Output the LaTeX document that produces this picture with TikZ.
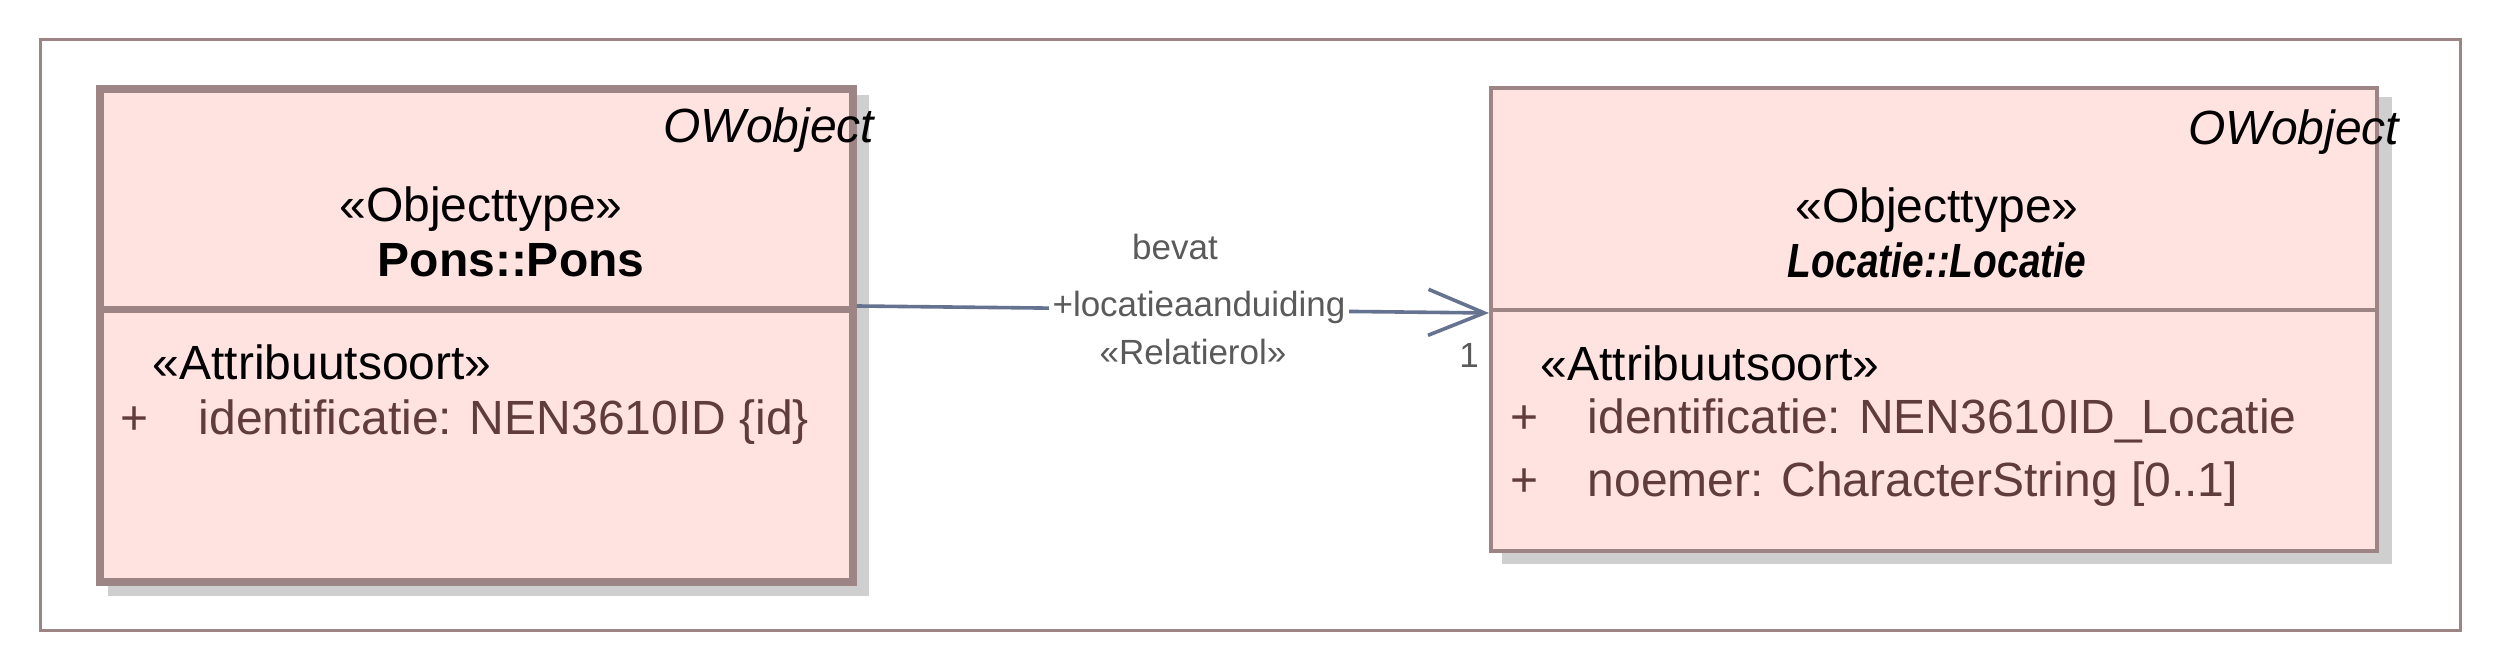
\documentclass[tikz,border=0pt]{standalone}
\usepackage{graphicx}
\usepackage{fontspec}
\setmainfont{Liberation Sans}
\usetikzlibrary{arrows.meta,calc}
\definecolor{boxfill}{HTML}{FFE3E1}
\definecolor{boxline}{HTML}{9C8584}
\definecolor{shadowc}{HTML}{CFCFCF}
\definecolor{linkc}{HTML}{667390}
\definecolor{attrc}{HTML}{603C3C}
\definecolor{labc}{HTML}{5A5A5A}
\begin{document}
\begin{tikzpicture}[x=0.25pt,y=-0.25pt,
  classbox/.style={draw=boxline, fill=boxfill, rectangle, inner sep=0pt},
  txt/.style={inner sep=0pt, font=\fontsize{12pt}{14pt}\selectfont},
  attr/.style={txt, text=attrc, anchor=base west},
  lab/.style={inner sep=0pt, text=labc, font=\fontsize{8.75pt}{10pt}\selectfont, anchor=base},
  shadowfill/.style={fill=shadowc}]
\useasboundingbox (0,0) rectangle (2500,672);
% outer frame
\node[draw=boxline, line width=0.75pt, rectangle, inner sep=0pt, outer sep=0pt,
      minimum width=605pt, minimum height=147.75pt] (frame) at (1250,335.5) {};
% class boxes (nodes first, invisible, to get anchors)
\path (476.5,335.5) node[rectangle, inner sep=0pt, line width=2pt, minimum width=188.25pt, minimum height=123.25pt] (ponsS) {};
\path (1934,319.5) node[rectangle, inner sep=0pt, line width=1pt, minimum width=221.5pt, minimum height=115.75pt] (locS) {};
% shadows
\fill[shadowfill] ($(ponsS.south west)+(12,10)$) rectangle ($(ponsS.north east)+(12,10)$);
\fill[shadowfill] ($(locS.south west)+(13,11)$) rectangle ($(locS.north east)+(13,11)$);
% boxes
\node[classbox, line width=2pt, minimum width=188.25pt, minimum height=123.25pt] (pons) at (476.5,335.5) {};
\node[classbox, line width=1pt, minimum width=221.5pt, minimum height=115.75pt] (loc) at (1934,319.5) {};
% dividers
\draw[boxline, line width=1.75pt] (pons.west |- 0,309.5) -- (pons.east |- 0,309.5);
\draw[boxline, line width=1pt] (loc.west |- 0,310) -- (loc.east |- 0,310);
% texts left box
\node[txt, anchor=base east, font=\fontsize{12pt}{14pt}\selectfont\itshape] (ow1) at (875,143) {OWobject};
\node[txt, anchor=base] (st1) at (481,222) {«Objecttype»};
\node[txt, anchor=base, font=\fontsize{12pt}{14pt}\selectfont\bfseries] (nm1) at (511,277) {Pons::Pons};
\node[txt, anchor=base west] (as1) at (152,380) {«Attribuutsoort»};
\node[attr] (p1) at (120,435) {+};
\node[attr] (a1) at (198,435) {identificatie: NEN3610ID \{id\}};
% texts right box
\node[txt, anchor=base east, font=\fontsize{12pt}{14pt}\selectfont\itshape] (ow2) at (2400,145) {OWobject};
\node[txt, anchor=base] (st2) at (1937,223) {«Objecttype»};
\node[txt, anchor=base, font=\fontsize{12pt}{14pt}\selectfont\bfseries\itshape] (nm2) at (1937,278) {\scalebox{0.81}[1]{Locatie::Locatie}};
\node[txt, anchor=base west] (as2) at (1540,381) {«Attribuutsoort»};
\node[attr] (p2) at (1510,434) {+};
\node[attr] (a2) at (1587,434) {identificatie: NEN3610ID\_Locatie};
\node[attr] (p3) at (1510,497) {+};
\node[attr] (a3) at (1587,497) {noemer: CharacterString [0..1]};
% connector
\draw[linkc, line width=0.9pt, -{Straight Barb[length=14pt,width=11.5pt]}] (pons.east |- 0,306) -- (loc.west |- 0,313);
\node[lab] (l1) at (1175,260) {bevat};
\node[lab, fill=white, inner sep=1pt] (l2) at (1199,317) {+locatieaanduiding};
\node[lab] (l3) at (1193,365) {«Relatierol»};
\node[lab] (l4) at (1469,368) {1};
\end{tikzpicture}
\end{document}
